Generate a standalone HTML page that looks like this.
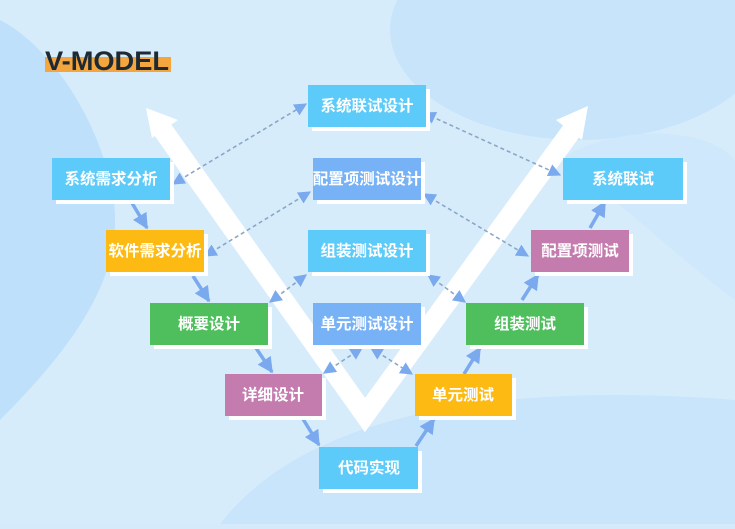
<!DOCTYPE html>
<html><head><meta charset="utf-8"><style>
html,body{margin:0;padding:0;}
body{width:735px;height:524px;overflow:hidden;background:#d5ebfb;}
svg text{font-family:"Liberation Sans","Noto Sans CJK SC",sans-serif;font-weight:bold;fill:#fff;font-size:15.5px;}
</style></head><body>
<svg width="735" height="524" viewBox="0 0 735 524" xmlns="http://www.w3.org/2000/svg">
<defs>
<marker id="ah" viewBox="0 0 10 10" refX="9" refY="5" markerWidth="4.5" markerHeight="4.5" orient="auto-start-reverse"><path d="M0,0L10,5L0,10z" fill="#7aa9ee"/></marker>
<marker id="ad" viewBox="0 0 10 10" refX="9" refY="5" markerWidth="8" markerHeight="8" orient="auto-start-reverse"><path d="M0,0L10,5L0,10z" fill="#7aa9ee"/></marker>
</defs>
<rect width="735" height="524" fill="#d7ecfb"/>
<path d="M0,20 C40,40 90,100 110,180 C130,260 90,330 0,420 Z" fill="#bfe0fa"/>
<ellipse cx="580" cy="30" rx="190" ry="110" fill="#c8e4fb"/>
<path d="M220,524 C300,420 480,380 735,400 L735,524 Z" fill="#c9e5fb"/>
<path d="M560,160 C600,130 700,120 735,160 L735,300 C680,260 620,200 560,160Z" fill="#cfe8fb"/>
<!-- title -->
<rect x="45" y="57" width="126" height="15" fill="#f5a53d"/>
<text x="45" y="70" textLength="124" lengthAdjust="spacingAndGlyphs" style="font-size:27px;fill:#1e2a33;font-family:'Liberation Sans',sans-serif;font-weight:bold">V-MODEL</text>
<!-- V -->
<polyline points="160,126 365,415 575,126" fill="none" stroke="#fff" stroke-width="20" stroke-linejoin="miter"/>
<polygon points="146,108 178,120 152,138" fill="#fff"/>
<polygon points="588,106 582,140 556,120" fill="#fff"/>
<!-- solid arrows -->
<g stroke="#7aa9ee" stroke-width="3.5" fill="none" marker-end="url(#ah)">
<line x1="132" y1="203" x2="147" y2="228"/>
<line x1="193" y1="276" x2="209" y2="301"/>
<line x1="256" y1="348" x2="272" y2="372"/>
<line x1="303" y1="419" x2="319" y2="445"/>
<line x1="416" y1="446" x2="434" y2="419"/>
<line x1="464" y1="374" x2="480" y2="348"/>
<line x1="522" y1="300" x2="538" y2="275"/>
<line x1="590" y1="228" x2="605" y2="202"/>
</g>
<!-- dashed -->
<g stroke="#8aa7c9" stroke-width="1.6" stroke-dasharray="4,3" fill="none" marker-start="url(#ad)" marker-end="url(#ad)">
<line x1="173" y1="184" x2="306" y2="104"/>
<line x1="205" y1="256" x2="310" y2="192"/>
<line x1="270" y1="302" x2="306" y2="275"/>
<line x1="324" y1="373" x2="362" y2="348"/>
<line x1="371" y1="348" x2="412" y2="374"/>
<line x1="428" y1="275" x2="465" y2="302"/>
<line x1="424" y1="113" x2="560" y2="175"/>
<line x1="424" y1="194" x2="528" y2="256"/>
</g>
<!-- boxes -->
<g>
<g transform="translate(308,85)"><rect x="4" y="4" width="118" height="42" fill="#fff"/><rect width="118" height="42" fill="#5ccbfa"/><text x="59" y="26" text-anchor="middle">系统联试设计</text></g>
<g transform="translate(313,158)"><rect x="4" y="4" width="108" height="42" fill="#fff"/><rect width="108" height="42" fill="#77b2f6"/><text x="54" y="26" text-anchor="middle">配置项测试设计</text></g>
<g transform="translate(308,230)"><rect x="4" y="4" width="118" height="42" fill="#fff"/><rect width="118" height="42" fill="#5ccbfa"/><text x="59" y="26" text-anchor="middle">组装测试设计</text></g>
<g transform="translate(313,303)"><rect x="4" y="4" width="108" height="42" fill="#fff"/><rect width="108" height="42" fill="#77b2f6"/><text x="54" y="26" text-anchor="middle">单元测试设计</text></g>
<g transform="translate(52,158)"><rect x="4" y="4" width="118" height="42" fill="#fff"/><rect width="118" height="42" fill="#5ccbfa"/><text x="59" y="26" text-anchor="middle">系统需求分析</text></g>
<g transform="translate(106,230)"><rect x="4" y="4" width="98" height="42" fill="#fff"/><rect width="98" height="42" fill="#fdba12"/><text x="49" y="26" text-anchor="middle">软件需求分析</text></g>
<g transform="translate(150,303)"><rect x="4" y="4" width="118" height="42" fill="#fff"/><rect width="118" height="42" fill="#4fbe5d"/><text x="59" y="26" text-anchor="middle">概要设计</text></g>
<g transform="translate(225,374)"><rect x="4" y="4" width="97" height="42" fill="#fff"/><rect width="97" height="42" fill="#c47bae"/><text x="48" y="26" text-anchor="middle">详细设计</text></g>
<g transform="translate(319,447)"><rect x="4" y="4" width="99" height="42" fill="#fff"/><rect width="99" height="42" fill="#5ccbfa"/><text x="50" y="26" text-anchor="middle">代码实现</text></g>
<g transform="translate(415,374)"><rect x="4" y="4" width="97" height="42" fill="#fff"/><rect width="97" height="42" fill="#fdba12"/><text x="48" y="26" text-anchor="middle">单元测试</text></g>
<g transform="translate(466,303)"><rect x="4" y="4" width="118" height="42" fill="#fff"/><rect width="118" height="42" fill="#4fbe5d"/><text x="59" y="26" text-anchor="middle">组装测试</text></g>
<g transform="translate(531,230)"><rect x="4" y="4" width="98" height="42" fill="#fff"/><rect width="98" height="42" fill="#c47bae"/><text x="49" y="26" text-anchor="middle">配置项测试</text></g>
<g transform="translate(563,158)"><rect x="4" y="4" width="120" height="42" fill="#fff"/><rect width="120" height="42" fill="#5ccbfa"/><text x="60" y="26" text-anchor="middle">系统联试</text></g>
</g>
</svg>
</body></html>
